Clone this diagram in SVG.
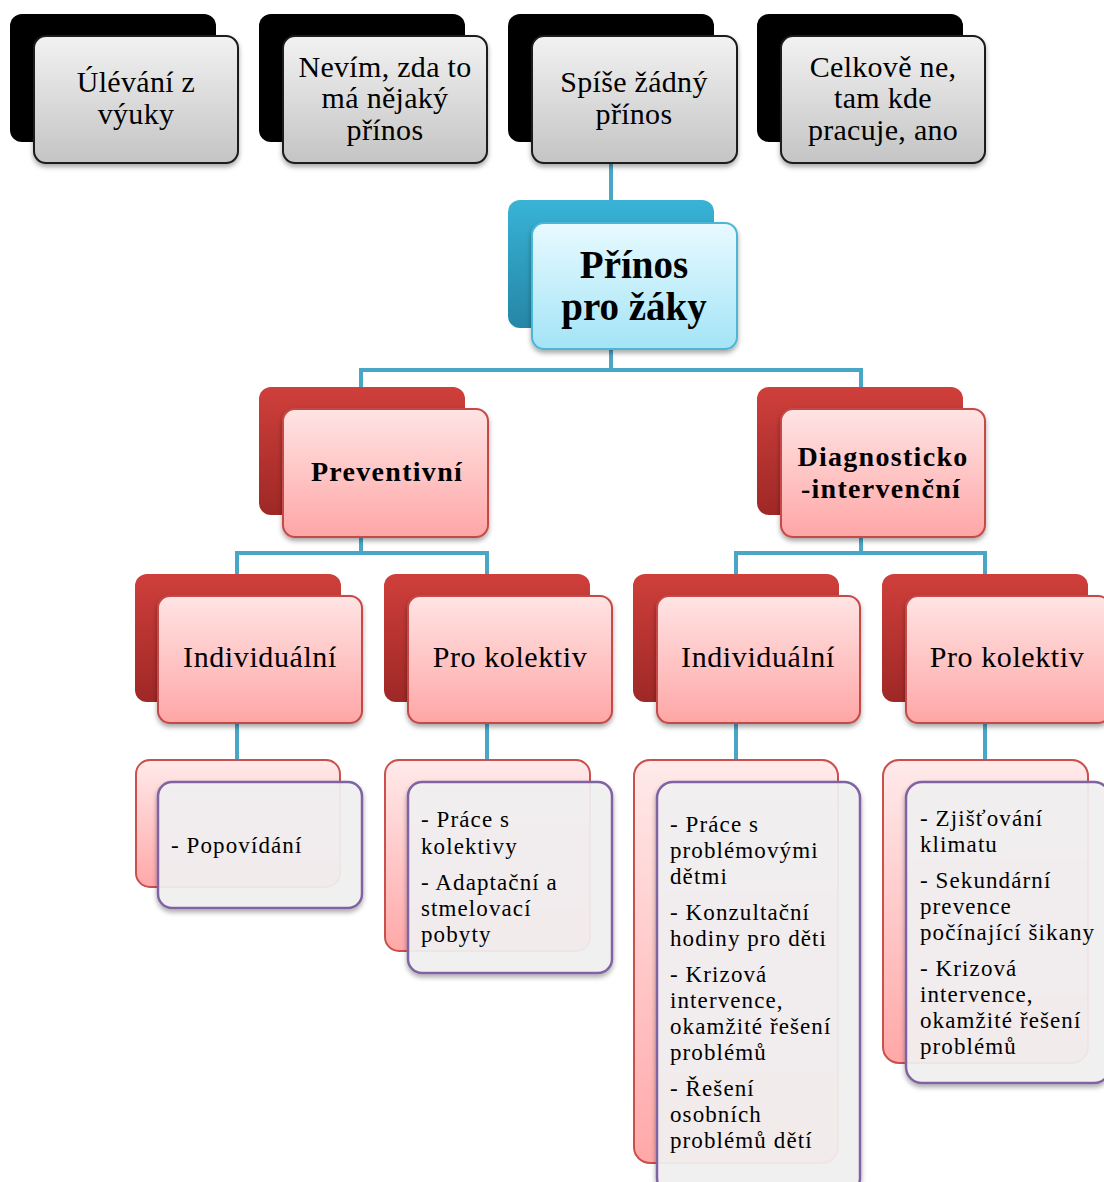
<svg xmlns="http://www.w3.org/2000/svg" width="1104" height="1182" viewBox="0 0 1104 1182">
<defs>
<linearGradient id="gGray" x1="0" y1="0" x2="0" y2="1"><stop offset="0" stop-color="#f2f2f2"/><stop offset="1" stop-color="#c4c4c4"/></linearGradient>
<linearGradient id="gBlueBack" x1="0" y1="0" x2="0" y2="1"><stop offset="0" stop-color="#38b3d6"/><stop offset="1" stop-color="#2586a6"/></linearGradient>
<linearGradient id="gBlueFront" x1="0" y1="0" x2="0" y2="1"><stop offset="0" stop-color="#e8faff"/><stop offset="1" stop-color="#a3e4f6"/></linearGradient>
<linearGradient id="gRedBack" x1="0" y1="0" x2="0" y2="1"><stop offset="0" stop-color="#cf3f3b"/><stop offset="1" stop-color="#9e2826"/></linearGradient>
<linearGradient id="gRedFront" x1="0" y1="0" x2="0" y2="1"><stop offset="0" stop-color="#ffe4e4"/><stop offset="1" stop-color="#ffa6a6"/></linearGradient>
<linearGradient id="gPinkBack" x1="0" y1="0" x2="0" y2="1"><stop offset="0" stop-color="#ffeaea"/><stop offset="1" stop-color="#ffa8a8"/></linearGradient>
<filter id="sh" x="-10%" y="-10%" width="125%" height="130%"><feDropShadow dx="0" dy="3" stdDeviation="2.5" flood-color="#000" flood-opacity="0.35"/></filter>
</defs>
<style>
.blackBack{fill:#000;}
.grayFront{fill:url(#gGray);stroke:#1a1a1a;stroke-width:2;filter:url(#sh);}
.blueBack{fill:url(#gBlueBack);}
.blueFront{fill:url(#gBlueFront);stroke:#4cb6d6;stroke-width:2;filter:url(#sh);}
.redBack{fill:url(#gRedBack);}
.redFront{fill:url(#gRedFront);stroke:#c44a47;stroke-width:2;filter:url(#sh);}
.pinkBack{fill:url(#gPinkBack);stroke:#c9504d;stroke-width:2;}
.listFront{fill:#f4f3f4;fill-opacity:0.9;stroke:#8064a2;stroke-width:2.5;filter:url(#sh);}
.conn{fill:none;stroke:#4aa6c6;stroke-width:4;}
.t1{font-family:'Liberation Serif',serif;font-size:30px;letter-spacing:0.3px;text-anchor:middle;fill:#000;}
.t2{font-family:'Liberation Serif',serif;font-size:30px;letter-spacing:0.6px;text-anchor:middle;fill:#000;}
.tc{font-family:'Liberation Serif',serif;font-size:39px;font-weight:bold;text-anchor:middle;fill:#000;}
.tb{font-family:'Liberation Serif',serif;font-size:28px;font-weight:bold;letter-spacing:1.3px;text-anchor:middle;fill:#000;}
.tl{font-family:'Liberation Serif',serif;font-size:23px;letter-spacing:1.1px;fill:#000;}
</style>

<g id="connectors">
<path class="conn" d="M611 163 V200"/>
<path class="conn" d="M611 349 V370 M361 370 H861 M361 368 V387 M861 368 V387"/>
<path class="conn" d="M361 537 V553 M237 553 H487 M237 551 V574 M487 551 V574"/>
<path class="conn" d="M861 537 V553 M736 553 H985 M736 551 V574 M985 551 V574"/>
<path class="conn" d="M237 723 V760 M487 723 V760 M736 723 V760 M985 723 V760"/>
</g>

<g id="node-ulevani">
<rect class="blackBack" x="10" y="14" width="206" height="128" rx="12"/>
<rect class="grayFront" x="34" y="36" width="204" height="127" rx="12"/>
<text class="t1" x="136" y="92">Úlévání z</text>
<text class="t1" x="136" y="124">výuky</text>
</g>

<g id="node-nevim">
<rect class="blackBack" x="259" y="14" width="206" height="128" rx="12"/>
<rect class="grayFront" x="283" y="36" width="204" height="127" rx="12"/>
<text class="t1" x="385" y="77">Nevím, zda to</text>
<text class="t1" x="385" y="108">má nějaký</text>
<text class="t1" x="385" y="140">přínos</text>
</g>

<g id="node-spise">
<rect class="blackBack" x="508" y="14" width="206" height="128" rx="12"/>
<rect class="grayFront" x="532" y="36" width="205" height="127" rx="12"/>
<text class="t1" x="634" y="92">Spíše žádný</text>
<text class="t1" x="634" y="124">přínos</text>
</g>

<g id="node-celkove">
<rect class="blackBack" x="757" y="14" width="206" height="128" rx="12"/>
<rect class="grayFront" x="781" y="36" width="204" height="127" rx="12"/>
<text class="t1" x="883" y="77">Celkově ne,</text>
<text class="t1" x="883" y="108">tam kde</text>
<text class="t1" x="883" y="140">pracuje, ano</text>
</g>

<g id="node-prinos">
<rect class="blueBack" x="508" y="200" width="206" height="128" rx="12"/>
<rect class="blueFront" x="532" y="223" width="205" height="126" rx="12"/>
<text class="tc" x="634" y="278">Přínos</text>
<text class="tc" x="634" y="320">pro žáky</text>
</g>

<g id="node-preventivni">
<rect class="redBack" x="259" y="387" width="206" height="128" rx="12"/>
<rect class="redFront" x="283" y="409" width="205" height="128" rx="12"/>
<text class="tb" x="387" y="481">Preventivní</text>
</g>

<g id="node-diagnosticko">
<rect class="redBack" x="757" y="387" width="206" height="128" rx="12"/>
<rect class="redFront" x="781" y="409" width="204" height="128" rx="12"/>
<text class="tb" x="883" y="466">Diagnosticko</text>
<text class="tb" x="881" y="498">-intervenční</text>
</g>

<g id="node-ind-left">
<rect class="redBack" x="135" y="574" width="206" height="128" rx="12"/>
<rect class="redFront" x="158" y="596" width="204" height="127" rx="12"/>
<text class="t2" x="260" y="667">Individuální</text>
</g>

<g id="node-kol-left">
<rect class="redBack" x="384" y="574" width="206" height="128" rx="12"/>
<rect class="redFront" x="408" y="596" width="204" height="127" rx="12"/>
<text class="t2" x="510" y="667">Pro kolektiv</text>
</g>

<g id="node-ind-right">
<rect class="redBack" x="633" y="574" width="206" height="128" rx="12"/>
<rect class="redFront" x="657" y="596" width="203" height="127" rx="12"/>
<text class="t2" x="758" y="667">Individuální</text>
</g>

<g id="node-kol-right">
<rect class="redBack" x="882" y="574" width="206" height="128" rx="12"/>
<rect class="redFront" x="906" y="596" width="204" height="127" rx="12"/>
<text class="t2" x="1007" y="667">Pro kolektiv</text>
</g>

<g id="list-popovidani">
<rect class="pinkBack" x="136" y="760" width="204" height="127" rx="14"/>
<rect class="listFront" x="158" y="782" width="204" height="126" rx="14"/>
<text class="tl" x="171" y="853">- Popovídání</text>
</g>

<g id="list-kolektiv-left">
<rect class="pinkBack" x="385" y="760" width="205" height="191" rx="14"/>
<rect class="listFront" x="408" y="782" width="204" height="191" rx="14"/>
<text class="tl" x="421" y="827">- Práce s</text>
<text class="tl" x="421" y="854">kolektivy</text>
<text class="tl" x="421" y="890">- Adaptační a</text>
<text class="tl" x="421" y="916">stmelovací</text>
<text class="tl" x="421" y="942">pobyty</text>
</g>

<g id="list-individualni-right">
<rect class="pinkBack" x="634" y="760" width="204" height="403" rx="16"/>
<rect class="listFront" x="657" y="782" width="203" height="412" rx="16"/>
<text class="tl" x="670" y="832">- Práce s</text>
<text class="tl" x="670" y="858">problémovými</text>
<text class="tl" x="670" y="884">dětmi</text>
<text class="tl" x="670" y="920">- Konzultační</text>
<text class="tl" x="670" y="946">hodiny pro děti</text>
<text class="tl" x="670" y="982">- Krizová</text>
<text class="tl" x="670" y="1008">intervence,</text>
<text class="tl" x="670" y="1034">okamžité řešení</text>
<text class="tl" x="670" y="1060">problémů</text>
<text class="tl" x="670" y="1096">- Řešení</text>
<text class="tl" x="670" y="1122">osobních</text>
<text class="tl" x="670" y="1148">problémů dětí</text>
</g>

<g id="list-kolektiv-right">
<rect class="pinkBack" x="883" y="760" width="205" height="303" rx="16"/>
<rect class="listFront" x="906" y="782" width="204" height="301" rx="16"/>
<text class="tl" x="920" y="826">- Zjišťování</text>
<text class="tl" x="920" y="852">klimatu</text>
<text class="tl" x="920" y="888">- Sekundární</text>
<text class="tl" x="920" y="914">prevence</text>
<text class="tl" x="920" y="940">počínající šikany</text>
<text class="tl" x="920" y="976">- Krizová</text>
<text class="tl" x="920" y="1002">intervence,</text>
<text class="tl" x="920" y="1028">okamžité řešení</text>
<text class="tl" x="920" y="1054">problémů</text>
</g>
</svg>
